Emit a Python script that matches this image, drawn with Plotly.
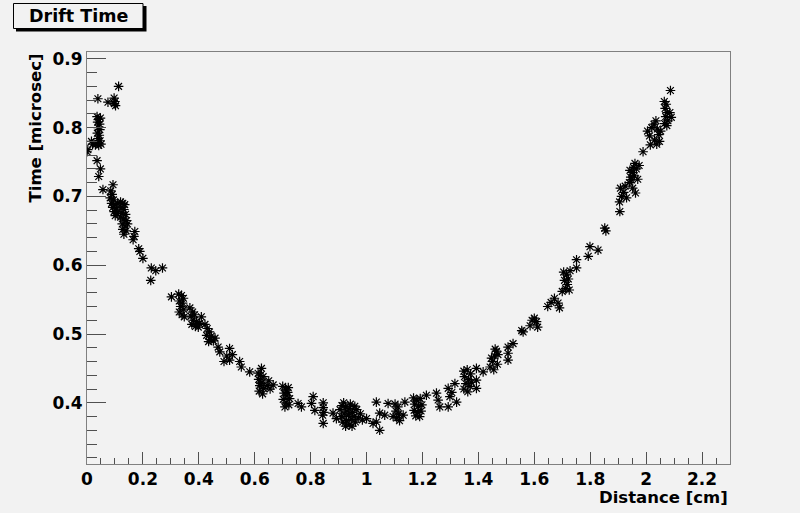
import plotly.graph_objects as go

# Distance [cm] and Time [microsec]
distance_left = [
    0.000, 0.003, 0.016, 0.020, 0.039, 0.075, 0.113, 0.097, 0.100, 0.102, 0.098,
    0.036, 0.042, 0.048, 0.038, 0.045, 0.040, 0.046, 0.037, 0.044, 0.040, 0.047, 0.036, 0.042, 0.050, 0.030,
    0.036, 0.048, 0.042, 0.057, 0.093,
    0.085, 0.090, 0.083, 0.095, 0.088, 0.100, 0.092, 0.105, 0.097, 0.108, 0.101, 0.110,
    0.120, 0.128, 0.135, 0.122, 0.132, 0.125, 0.138, 0.120, 0.130, 0.142, 0.126, 0.136, 0.128, 0.140, 0.132, 0.145,
    0.171, 0.165, 0.168, 0.189, 0.185, 0.200, 0.230, 0.246, 0.270, 0.228,
    0.302, 0.328, 0.338, 0.345, 0.330, 0.342, 0.335, 0.346, 0.330, 0.340, 0.348,
    0.368, 0.378, 0.372, 0.385, 0.380, 0.392, 0.375, 0.388, 0.398, 0.403, 0.409,
    0.422, 0.430, 0.438, 0.428, 0.445, 0.440, 0.452, 0.458, 0.435,
    0.469, 0.475, 0.510, 0.490, 0.510, 0.500, 0.520,
]
time_left = [
    0.765, 0.768, 0.780, 0.776, 0.842, 0.837, 0.860, 0.843, 0.838, 0.832, 0.835,
    0.816, 0.812, 0.814, 0.808, 0.805, 0.800, 0.797, 0.792, 0.789, 0.784, 0.781, 0.777, 0.774, 0.776, 0.775,
    0.752, 0.740, 0.729, 0.710, 0.717,
    0.708, 0.703, 0.698, 0.695, 0.690, 0.688, 0.684, 0.682, 0.678, 0.675, 0.672, 0.690,
    0.692, 0.690, 0.688, 0.684, 0.681, 0.676, 0.674, 0.670, 0.667, 0.665, 0.660, 0.657, 0.652, 0.650, 0.645, 0.660,
    0.649, 0.637, 0.642, 0.620, 0.624, 0.610, 0.596, 0.592, 0.596, 0.578,
    0.554, 0.558, 0.556, 0.552, 0.548, 0.545, 0.540, 0.536, 0.532, 0.528, 0.525,
    0.538, 0.532, 0.526, 0.528, 0.520, 0.518, 0.514, 0.511, 0.510, 0.515, 0.525,
    0.514, 0.508, 0.503, 0.498, 0.497, 0.492, 0.490, 0.494, 0.489,
    0.481, 0.474, 0.479, 0.460, 0.462, 0.468, 0.470,
]

distance_mid = [
    0.546, 0.552, 0.582, 0.624,
    0.612, 0.620, 0.630, 0.614, 0.626, 0.618, 0.632, 0.616, 0.628, 0.622, 0.645, 0.655, 0.650, 0.666,
    0.700, 0.710, 0.720, 0.705, 0.715, 0.702, 0.712, 0.722, 0.708, 0.725, 0.718,
    0.755, 0.767, 0.809, 0.803, 0.815, 0.845, 0.845, 0.847, 0.843, 0.845, 0.880, 0.892,
    0.905, 0.912, 0.918, 0.925, 0.930, 0.920, 0.910, 0.935, 0.940, 0.945, 0.950, 0.928,
    0.915, 0.938, 0.955, 0.960, 0.948, 0.965, 0.970, 0.978, 0.985, 0.925, 0.942, 0.958,
    1.000, 1.023, 1.035, 1.047, 1.035, 1.047, 1.065, 1.077, 1.095,
    1.102, 1.112, 1.105, 1.115, 1.108, 1.118, 1.137, 1.131,
    1.168, 1.180, 1.192, 1.172, 1.186, 1.198, 1.170, 1.183, 1.195, 1.176, 1.190,
    1.214, 1.250, 1.256, 1.262, 1.292, 1.298, 1.316, 1.322, 1.292, 1.305,
]
time_mid = [
    0.460, 0.452, 0.445, 0.450,
    0.443, 0.440, 0.438, 0.434, 0.430, 0.425, 0.421, 0.417, 0.413, 0.428, 0.425, 0.420, 0.432, 0.426,
    0.424, 0.420, 0.422, 0.414, 0.410, 0.405, 0.400, 0.397, 0.394, 0.406, 0.415,
    0.399, 0.394, 0.409, 0.399, 0.389, 0.400, 0.393, 0.386, 0.382, 0.370, 0.385, 0.377,
    0.390, 0.396, 0.400, 0.394, 0.388, 0.384, 0.380, 0.382, 0.392, 0.376, 0.386, 0.374,
    0.372, 0.368, 0.380, 0.372, 0.366, 0.390, 0.378, 0.384, 0.375, 0.366, 0.398, 0.395,
    0.377, 0.370, 0.372, 0.360, 0.401, 0.385, 0.382, 0.399, 0.380,
    0.398, 0.394, 0.388, 0.384, 0.378, 0.374, 0.401, 0.382,
    0.407, 0.404, 0.406, 0.398, 0.395, 0.397, 0.389, 0.386, 0.388, 0.381, 0.380,
    0.411, 0.414, 0.404, 0.394, 0.421, 0.409, 0.428, 0.401, 0.394, 0.415,
]

distance_right = [
    1.348, 1.360, 1.372, 1.350, 1.365, 1.355, 1.370, 1.348, 1.362, 1.375,
    1.393, 1.393, 1.393, 1.417,
    1.442, 1.450, 1.458, 1.465, 1.455, 1.468, 1.460, 1.447, 1.470,
    1.506, 1.506, 1.506, 1.524, 1.560, 1.555,
    1.585, 1.592, 1.600, 1.608, 1.612,
    1.648, 1.660, 1.672, 1.685, 1.690,
    1.705, 1.715, 1.722, 1.708, 1.718, 1.712, 1.725, 1.700, 1.728,
    1.751, 1.751, 1.799, 1.793, 1.828, 1.852, 1.856, 1.906,
    1.905, 1.912, 1.920, 1.908, 1.925, 1.930, 1.940, 1.945, 1.950, 1.955, 1.960, 1.948,
    1.958, 1.965, 1.970, 1.952, 1.962, 1.942, 1.975, 1.989,
    2.005, 2.012, 2.020, 2.028, 2.035, 2.040, 2.045, 2.030, 2.038, 2.048, 2.015, 2.052,
    2.065, 2.072, 2.068, 2.075, 2.070, 2.078, 2.066, 2.074, 2.085, 2.090, 2.087,
]
time_right = [
    0.446, 0.448, 0.442, 0.438, 0.434, 0.428, 0.424, 0.420, 0.416, 0.430,
    0.450, 0.433, 0.421, 0.445,
    0.452, 0.460, 0.468, 0.475, 0.448, 0.456, 0.478, 0.465, 0.470,
    0.481, 0.472, 0.462, 0.486, 0.503, 0.505,
    0.512, 0.520, 0.523, 0.518, 0.510,
    0.540, 0.546, 0.552, 0.545, 0.538,
    0.590, 0.586, 0.580, 0.578, 0.572, 0.566, 0.564, 0.562, 0.592,
    0.608, 0.596, 0.627, 0.613, 0.622, 0.654, 0.650, 0.678,
    0.692, 0.700, 0.706, 0.712, 0.715, 0.698, 0.720, 0.728, 0.735, 0.742, 0.748, 0.724,
    0.730, 0.740, 0.725, 0.712, 0.705, 0.738, 0.745, 0.765,
    0.795, 0.788, 0.800, 0.805, 0.810, 0.798, 0.790, 0.782, 0.776, 0.780, 0.775, 0.795,
    0.838, 0.834, 0.828, 0.822, 0.816, 0.810, 0.806, 0.803, 0.822, 0.815, 0.854,
]

distance = distance_left + distance_mid + distance_right
time = time_left + time_mid + time_right

title_text = "Drift Time"
x_title = "Distance [cm]"
y_title = "Time [microsec]"

BG = "#f2f2f2"
FONT = "DejaVu Sans"

# plot frame in pixels
W, H = 800, 513
L, R, T, B = 87, 730, 52, 464
PW, PH = R - L, B - T


def px(xp):
    return (xp - L) / PW


def py(yp):
    return (B - yp) / PH


fig = go.Figure()
fig.add_trace(go.Scatter(
    x=distance, y=time, mode="markers",
    marker=dict(symbol="asterisk-open", size=8, color="black",
                line=dict(color="black", width=1.2)),
    cliponaxis=True, showlegend=False, hoverinfo="skip",
))

axis_common = dict(
    showgrid=False, zeroline=False, showline=True, mirror=True,
    linecolor="#808080", linewidth=1, ticks="inside", tickcolor="#505050",
    tickwidth=1,
    tickfont=dict(family=FONT, size=17, color="black", weight="bold"),
)
fig.update_xaxes(range=[0, 2.3], tick0=0, dtick=0.2, ticklen=12,
                 minor=dict(ticks="inside", dtick=0.05, ticklen=6, tickcolor="#505050"),
                 **axis_common)
fig.update_yaxes(range=[0.311, 0.91], tick0=0, dtick=0.1, ticklen=19,
                 minor=dict(ticks="inside", dtick=0.02, ticklen=10, tickcolor="#505050"),
                 **axis_common)

shapes = [
    dict(type="rect", xref="paper", yref="paper", x0=px(16), x1=px(146.5),
         y0=py(6), y1=py(31.5), fillcolor="black", line=dict(width=0), layer="above"),
    dict(type="rect", xref="paper", yref="paper", x0=px(13.5), x1=px(143),
         y0=py(3.5), y1=py(28.5), fillcolor=BG, line=dict(color="black", width=1),
         layer="above"),
]

annotations = [
    dict(text=title_text, xref="paper", yref="paper", x=px(78.5), y=py(16.5),
         xanchor="center", yanchor="middle", showarrow=False,
         font=dict(family=FONT, size=17.5, color="black", weight="bold")),
    dict(text=x_title, xref="paper", yref="paper", x=1.0, y=py(497),
         xanchor="right", yanchor="middle", showarrow=False,
         font=dict(family=FONT, size=16.5, color="black", weight="bold")),
    dict(text=y_title, xref="paper", yref="paper", x=px(35), y=1.0,
         xanchor="center", yanchor="top", textangle=-90, showarrow=False,
         font=dict(family=FONT, size=16.5, color="black", weight="bold")),
]

fig.update_layout(
    width=W, height=H,
    margin=dict(l=L, r=W - R, t=T, b=H - B, pad=0),
    paper_bgcolor=BG, plot_bgcolor=BG,
    shapes=shapes, annotations=annotations,
    showlegend=False, hovermode=False,
)

fig.write_html(
    "out.html",
    config={"displayModeBar": False},
    post_script="document.body.style.margin='0px';document.body.style.background='%s';" % BG,
)
